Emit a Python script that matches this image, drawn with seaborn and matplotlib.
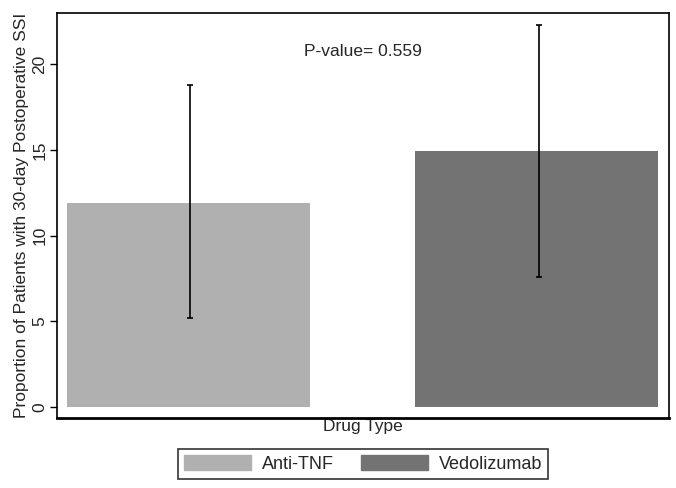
import numpy as np
import pandas as pd
import seaborn as sns
import matplotlib.pyplot as plt

# values
drugs = ["Anti-TNF", "Vedolizumab"]
proportion = [11.9, 14.95]
ci_low = [5.2, 7.6]
ci_high = [18.8, 22.3]
colors = ["#b0b0b0", "#737373"]
p_text = "P-value= 0.559"

data = pd.DataFrame({"drug": drugs, "prop": proportion})

sns.set_style("white")
plt.rcParams['font.family'] = ['Liberation Sans', 'DejaVu Sans']

fig = plt.figure(figsize=(6.76, 4.88), dpi=100)
ax = fig.add_axes([57/676, 70/488, 612/676, 405/488])

sns.barplot(data=data, x="drug", y="prop", hue="drug", palette=colors,
            width=0.697, errorbar=None, legend=False, ax=ax,
            edgecolor=None, linewidth=0)

# confidence intervals
pos = np.arange(len(drugs))
prop = np.array(proportion)
yerr = [prop - np.array(ci_low), np.array(ci_high) - prop]
ax.errorbar(pos + 0.005, prop, yerr=yerr, fmt="none", ecolor="black",
            elinewidth=1.2, capsize=2.5, capthick=1.2)

ax.set_xlim(-0.377, 1.379)
ax.set_ylim(-0.65, 23)
ax.set_yticks([0, 5, 10, 15, 20])
ax.set_xticks([])
ax.tick_params(axis="y", direction="out", length=5, width=1, color="black",
               labelsize=12.5, pad=2, left=True)
for lbl in ax.get_yticklabels():
    lbl.set_rotation(90)
    lbl.set_va("center")

for sp in ax.spines.values():
    sp.set_visible(True)
    sp.set_color("black")
    sp.set_linewidth(1.2)
ax.spines["bottom"].set_linewidth(2)

ax.set_xlabel("Drug Type", fontsize=12.5, labelpad=1)
ax.set_ylabel("Proportion of Patients with 30-day Postoperative SSI",
              fontsize=12.5, labelpad=2)

ax.text(0.5, 0.905, p_text, transform=ax.transAxes, ha="center", va="center",
        fontsize=12.5)

handles = [plt.Rectangle((0, 0), 1, 1, facecolor=c, edgecolor=c) for c in colors]
leg = fig.legend(handles, drugs, loc="center", bbox_to_anchor=(363/676, 1 - 464/488),
                 ncol=2, frameon=True, fancybox=False, fontsize=13,
                 handlelength=3.7, handleheight=0.9, columnspacing=1.5,
                 borderpad=0.35, handletextpad=0.6, borderaxespad=0)
leg.get_frame().set_edgecolor("black")
leg.get_frame().set_linewidth(1.2)

fig.savefig("out.png", dpi=100)
